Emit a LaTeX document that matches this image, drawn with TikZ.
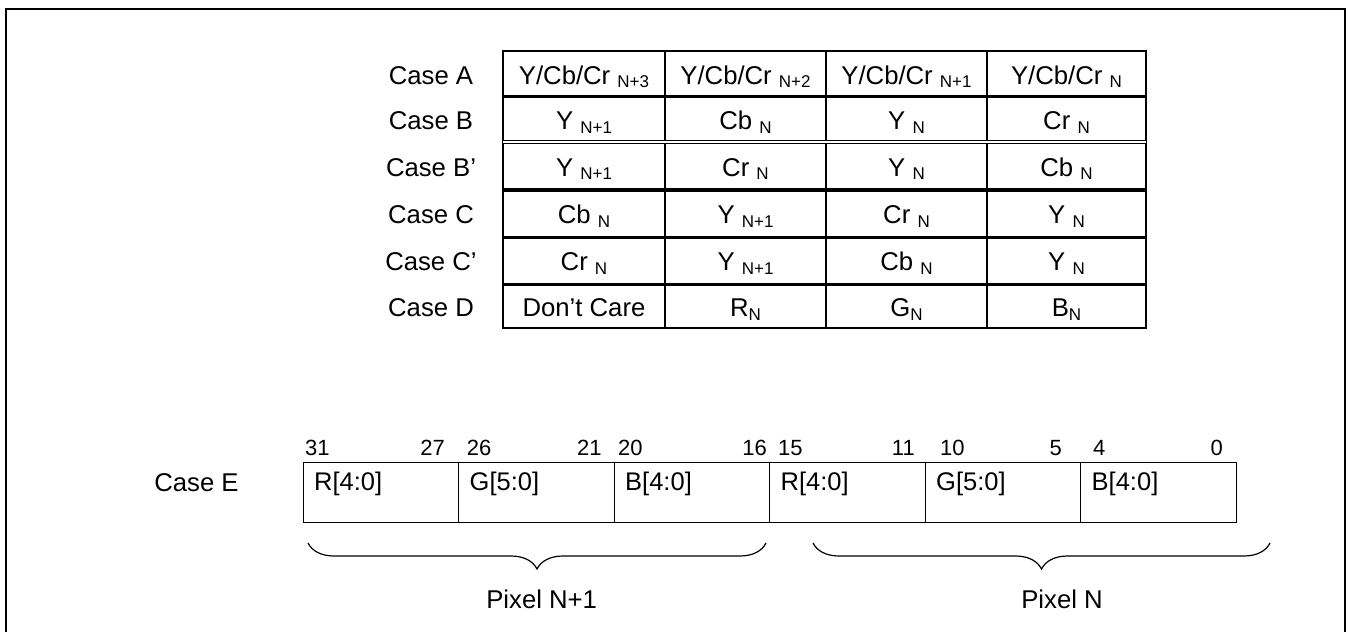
\documentclass[tikz,border=0pt]{standalone}
\usepackage{fontspec}
\setmainfont{Liberation Sans}
\usetikzlibrary{decorations.pathreplacing}
\newcommand\lsub[1]{\raisebox{-3.5pt}{\fontsize{17}{18}\selectfont #1}}
\newcommand\tabrow[7]{%
  \node[txt] (lab#1) at (431,#2) {#3};
  \node[txt] (#1a) at (584,#2) {#4};
  \node[txt] (#1b) at (745.5,#2) {#5};
  \node[txt] (#1c) at (906.5,#2) {#6};
  \node[txt] (#1d) at (1066.5,#2) {#7};}
\begin{document}
\begin{tikzpicture}[x=1pt,y=-1pt,
  txt/.style={font=\fontsize{25.7}{28}\selectfont, inner sep=0pt, anchor=base},
  fld/.style={font=\fontsize{25.5}{28}\selectfont, inner sep=0pt, anchor=base west},
  numw/.style={font=\fontsize{22}{24}\selectfont, inner sep=0pt, anchor=base west},
  nume/.style={font=\fontsize{22}{24}\selectfont, inner sep=0pt, anchor=base east},
  grid/.style={line width=1.8pt},
  thick sep/.style={line width=3.4pt},
  thin box/.style={line width=1pt},
  bracedeco/.style={decorate, line width=1.2pt, decoration={brace, amplitude=26pt, mirror}}]
\useasboundingbox (0,0) rectangle (1349,632);
% outer frame
\draw[line width=2.5pt] (6,632) -- (6,9) -- (1345,9) -- (1345,632);
% table lines
\draw[grid] (503,51) rectangle (1146,328.3);
\foreach \x in {665,826,987} \draw[grid] (\x,51) -- (\x,328.3);
\foreach \y in {96.7,190,237.3,284.3} \draw[thick sep] (503,\y) -- (1146,\y);
\draw[line width=1pt, double, double distance=2.2pt] (503,142) -- (1146,142);
% table text
\tabrow{A}{84}{Case A}{Y/Cb/Cr \lsub{N+3}}{Y/Cb/Cr \lsub{N+2}}{Y/Cb/Cr \lsub{N+1}}{Y/Cb/Cr \lsub{N}}
\tabrow{B}{129.5}{Case B}{Y \lsub{N+1}}{Cb \lsub{N}}{Y \lsub{N}}{Cr \lsub{N}}
\tabrow{Bp}{176}{Case B’}{Y \lsub{N+1}}{Cr \lsub{N}}{Y \lsub{N}}{Cb \lsub{N}}
\tabrow{C}{223.7}{Case C}{Cb \lsub{N}}{Y \lsub{N+1}}{Cr \lsub{N}}{Y \lsub{N}}
\tabrow{Cp}{270.8}{Case C’}{Cr \lsub{N}}{Y \lsub{N+1}}{Cb \lsub{N}}{Y \lsub{N}}
\tabrow{D}{316.5}{Case D}{Don’t Care}{R\lsub{N}}{G\lsub{N}}{B\lsub{N}}
% Case E
\node[txt] (caseE) at (196.5,491) {Case E};
\draw[thin box] (303,462) rectangle (1236,522);
\foreach \x in {458.5,614,769.5,925,1080.5} \draw[thin box] (\x,462) -- (\x,522);
\node[fld] (f1) at (314,490) {R[4:0]};
\node[fld] (f2) at (469.5,490) {G[5:0]};
\node[fld] (f3) at (625,490) {B[4:0]};
\node[fld] (f4) at (780.5,490) {R[4:0]};
\node[fld] (f5) at (936,490) {G[5:0]};
\node[fld] (f6) at (1091.5,490) {B[4:0]};
% bit numbers
\node[numw] (n31) at (305,455) {31};
\node[nume] (n27) at (445,455) {27};
\node[numw] (n26) at (466.7,455) {26};
\node[nume] (n21) at (601.7,455) {21};
\node[numw] (n20) at (618,455) {20};
\node[nume] (n16) at (767,455) {16};
\node[numw] (n15) at (778,455) {15};
\node[nume] (n11) at (915,455) {11};
\node[numw] (n10) at (940,455) {10};
\node[nume] (n5) at (1062,455) {5};
\node[numw] (n4) at (1093,455) {4};
\node[nume] (n0) at (1223,455) {0};
% braces
\coordinate (b1s) at (308,543);
\coordinate (b1e) at (766,543);
\coordinate (b2s) at (813,543);
\coordinate (b2e) at (1270,543);
\draw[bracedeco] (b1s) -- (b1e);
\draw[bracedeco] (b2s) -- (b2e);
\node[txt] (pix1) at (541.7,608) {Pixel N+1};
\node[txt] (pix0) at (1062,608) {Pixel N};
\end{tikzpicture}
\end{document}
